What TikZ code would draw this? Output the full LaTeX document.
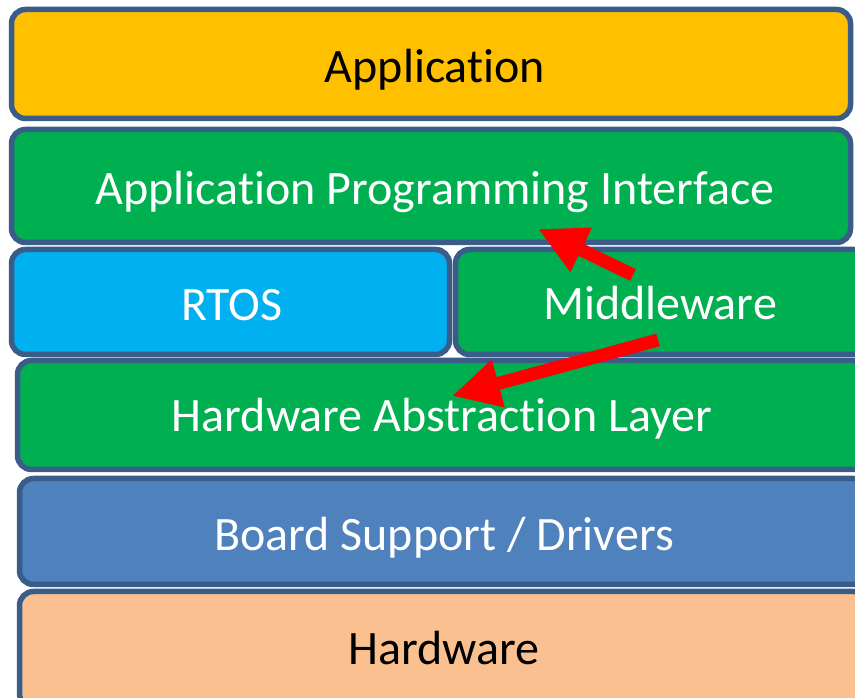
\documentclass[tikz,border=0pt]{standalone}
\usepackage{fontspec}
\setmainfont{Carlito}[Ligatures={NoCommon}]
\usetikzlibrary{arrows.meta}
\definecolor{edge}{HTML}{3A5C88}
\definecolor{appc}{HTML}{FFC000}
\definecolor{grn}{HTML}{00B050}
\definecolor{rtosc}{HTML}{00B0F0}
\definecolor{bspc}{HTML}{4F81BD}
\definecolor{hwc}{HTML}{FAC090}
\tikzset{
  layer/.style={draw=edge, line width=5.5pt, rounded corners=14pt, inner sep=0pt},
  lbl/.style={font=\fontsize{48}{48}\selectfont, inner sep=0pt},
  redarrow/.style={draw=red, line width=13pt, -{Triangle[length=48pt,width=46pt]}}
}
\begin{document}
\begin{tikzpicture}[x=1pt,y=1pt]
\useasboundingbox (0,0) rectangle (855,697);
\clip (0,0) rectangle (855,697);
\fill[white] (0,0) rectangle (855,697);
\node[layer, fill=appc, minimum width=839pt, minimum height=109pt] (app) at (431,633) {};
\node[lbl, text=black] (appt) at (435,627) {Application};
\node[layer, fill=grn, minimum width=839pt, minimum height=113pt] (api) at (431,511) {};
\node[lbl, text=white] (apit) at (435,505) {Application Programming Interface};
\node[layer, fill=rtosc, minimum width=438pt, minimum height=105pt] (rtos) at (230.5,395) {};
\node[lbl, text=white] (rtost) at (232,392) {RTOS};
\node[layer, fill=grn, minimum width=412pt, minimum height=105pt] (mw) at (661.5,395) {};
\node[lbl, text=white] (mwt) at (660,394) {Middleware};
\node[layer, fill=grn, minimum width=850pt, minimum height=109pt] (hal) at (442.5,282) {};
\node[lbl, text=white] (halt) at (442,278) {Hardware Abstraction Layer};
\node[layer, fill=bspc, minimum width=848pt, minimum height=106pt] (bsp) at (443.5,165.5) {};
\node[lbl, text=white] (bspt) at (444,159) {Board Support / Drivers};
\node[layer, fill=hwc, minimum width=848pt, minimum height=116pt] (hw) at (443.5,47.5) {};
\node[lbl, text=black] (hwt) at (444,49) {Hardware};
\coordinate (a1s) at (633,422);
\coordinate (a1e) at (538,468);
\coordinate (a2s) at (658,357);
\coordinate (a2e) at (452,301);
\draw[redarrow] (a1s) -- (a1e);
\draw[redarrow] (a2s) -- (a2e);
\end{tikzpicture}
\end{document}
